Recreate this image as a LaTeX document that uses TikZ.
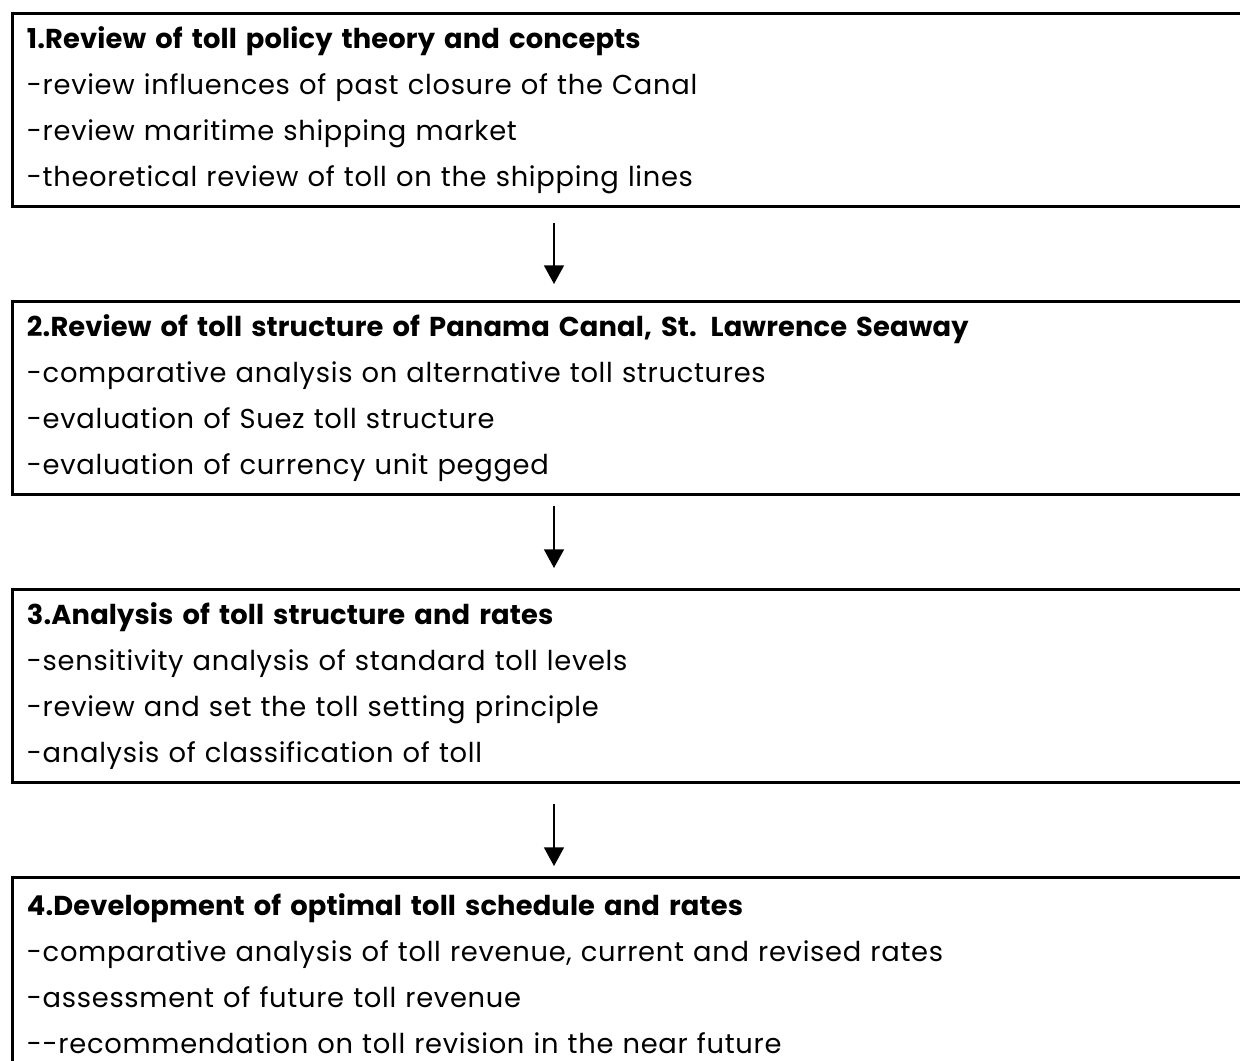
\documentclass[tikz,border=0pt]{standalone}
\usepackage{fontspec}
\setmainfont{Poppins}[LetterSpace=2.6, BoldFeatures={LetterSpace=0.5}]
\usetikzlibrary{arrows.meta}
\begin{document}
% 1 unit = 1px at 96 dpi; y grows downwards
\begin{tikzpicture}[x=0.75pt,y=-0.75pt,
  stagebox/.style={draw, line width=1.9pt, anchor=north west,
    minimum width=975pt, minimum height=144.75pt,
    inner xsep=11pt, inner ysep=0pt,
    text width=953pt, align=left,
    font=\fontsize{20.5}{34.5}\selectfont},
  flowarrow/.style={line width=1.2pt,
    -{Triangle[width=15pt,length=14pt]}}]
\useasboundingbox (0,0) rectangle (1240,1061);
\clip (0,0) rectangle (1240,1061);

\node[stagebox] (b1) at (11,12) {%
  \textbf{1.Review of toll policy theory and concepts}\\
  -review influences of past closure of the Canal\\
  -review maritime shipping market\\
  -theoretical review of toll on the shipping lines};

\node[stagebox] (b2) at (11,300) {%
  \textbf{2.Review of toll structure of Panama Canal, St. Lawrence Seaway}\\
  -comparative analysis on alternative toll structures\\
  -evaluation of Suez toll structure\\
  -evaluation of currency unit pegged};

\node[stagebox] (b3) at (11,588) {%
  \textbf{3.Analysis of toll structure and rates}\\
  -sensitivity analysis of standard toll levels\\
  -review and set the toll setting principle\\
  -analysis of classification of toll};

\node[stagebox] (b4) at (11,876) {%
  \textbf{4.Development of optimal toll schedule and rates}\\
  -comparative analysis of toll revenue, current and revised rates\\
  -assessment of future toll revenue\\
  -{}-recommendation on toll revision in the near future};

% arrows run down a common vertical line
\coordinate (ax) at (554,0);
\draw[flowarrow, shorten <=11.25pt, shorten >=12pt] (b1.south -| ax) -- (b2.north -| ax);
\draw[flowarrow, shorten <=7.5pt, shorten >=15pt] (b2.south -| ax) -- (b3.north -| ax);
\draw[flowarrow, shorten <=15pt, shorten >=7.5pt] (b3.south -| ax) -- (b4.north -| ax);
\end{tikzpicture}
\end{document}
